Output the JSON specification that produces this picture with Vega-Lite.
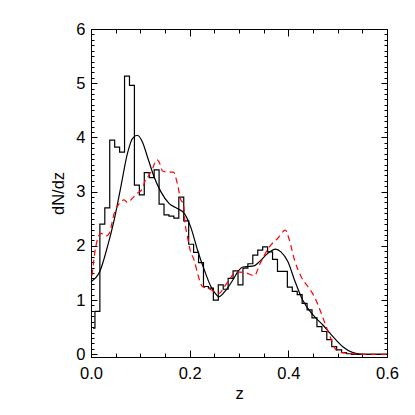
{
  "$schema": "https://vega.github.io/schema/vega-lite/v6.json",
  "autosize": "none",
  "width": 296,
  "height": 328,
  "padding": {"left": 91, "top": 29, "right": 28, "bottom": 58},
  "background": "white",
  "config": {
    "view": {"stroke": "black", "strokeWidth": 1},
    "font": "Liberation Sans",
    "axis": {"grid": false, "domainColor": "black", "tickColor": "black", "labelColor": "black", "titleColor": "black", "labelFont": "Liberation Sans", "titleFont": "Liberation Sans", "labelFontSize": 16.5, "titleFontSize": 16.5, "titleFontWeight": "normal", "tickWidth": 1, "domainWidth": 1}
  },
  "datasets": {
    "hist": [
      {"z": 0.004, "n": 0.48}, {"z": 0.008, "n": 0.79}, {"z": 0.018, "n": 2.40}, {"z": 0.028, "n": 2.70},
      {"z": 0.038, "n": 3.95}, {"z": 0.048, "n": 3.82}, {"z": 0.058, "n": 3.73}, {"z": 0.068, "n": 5.13},
      {"z": 0.078, "n": 4.96}, {"z": 0.088, "n": 3.12}, {"z": 0.098, "n": 2.94}, {"z": 0.108, "n": 3.35},
      {"z": 0.118, "n": 3.26}, {"z": 0.128, "n": 3.40}, {"z": 0.138, "n": 2.77}, {"z": 0.148, "n": 2.57},
      {"z": 0.158, "n": 2.55}, {"z": 0.168, "n": 2.51}, {"z": 0.178, "n": 2.90}, {"z": 0.188, "n": 2.46},
      {"z": 0.198, "n": 2.03}, {"z": 0.208, "n": 1.88}, {"z": 0.218, "n": 1.69}, {"z": 0.228, "n": 1.25},
      {"z": 0.238, "n": 1.22}, {"z": 0.248, "n": 1.00}, {"z": 0.258, "n": 1.28}, {"z": 0.268, "n": 1.20},
      {"z": 0.278, "n": 1.40}, {"z": 0.288, "n": 1.54}, {"z": 0.298, "n": 1.28}, {"z": 0.308, "n": 1.59},
      {"z": 0.318, "n": 1.67}, {"z": 0.328, "n": 1.83}, {"z": 0.338, "n": 1.92}, {"z": 0.348, "n": 1.98},
      {"z": 0.358, "n": 1.89}, {"z": 0.368, "n": 1.75}, {"z": 0.378, "n": 1.53}, {"z": 0.388, "n": 1.53},
      {"z": 0.398, "n": 1.24}, {"z": 0.408, "n": 1.16}, {"z": 0.418, "n": 1.10}, {"z": 0.428, "n": 0.94},
      {"z": 0.438, "n": 0.82}, {"z": 0.448, "n": 0.67}, {"z": 0.458, "n": 0.51}, {"z": 0.468, "n": 0.42},
      {"z": 0.478, "n": 0.27}, {"z": 0.488, "n": 0.14}, {"z": 0.498, "n": 0.08}, {"z": 0.508, "n": 0.03},
      {"z": 0.518, "n": 0.01}, {"z": 0.528, "n": 0.0}, {"z": 0.6, "n": 0.0}
    ],
    "smooth": [
      {"z": 0.0, "n": 1.34}, {"z": 0.018, "n": 1.53}, {"z": 0.0335, "n": 1.99}, {"z": 0.047, "n": 2.48},
      {"z": 0.0605, "n": 3.09}, {"z": 0.074, "n": 3.71}, {"z": 0.084, "n": 3.98}, {"z": 0.094, "n": 4.04},
      {"z": 0.104, "n": 3.92}, {"z": 0.1145, "n": 3.64}, {"z": 0.128, "n": 3.27}, {"z": 0.1415, "n": 3.0},
      {"z": 0.1585, "n": 2.78}, {"z": 0.175, "n": 2.69}, {"z": 0.189, "n": 2.60}, {"z": 0.202, "n": 2.35},
      {"z": 0.216, "n": 1.92}, {"z": 0.2295, "n": 1.56}, {"z": 0.243, "n": 1.25}, {"z": 0.253, "n": 1.11},
      {"z": 0.259, "n": 1.06}, {"z": 0.274, "n": 1.19}, {"z": 0.2875, "n": 1.37}, {"z": 0.298, "n": 1.53},
      {"z": 0.308, "n": 1.61}, {"z": 0.32, "n": 1.62}, {"z": 0.33, "n": 1.63}, {"z": 0.3415, "n": 1.71},
      {"z": 0.358, "n": 1.86}, {"z": 0.374, "n": 1.94}, {"z": 0.385, "n": 1.89}, {"z": 0.399, "n": 1.71},
      {"z": 0.4125, "n": 1.37}, {"z": 0.429, "n": 1.00}, {"z": 0.4496, "n": 0.73}, {"z": 0.47, "n": 0.54},
      {"z": 0.49, "n": 0.33}, {"z": 0.5105, "n": 0.14}, {"z": 0.531, "n": 0.03}, {"z": 0.551, "n": 0.0},
      {"z": 0.6, "n": 0.0}
    ],
    "model": [
      {"z": 0.002, "n": 1.45}, {"z": 0.0098, "n": 1.99}, {"z": 0.02, "n": 2.23}, {"z": 0.03, "n": 2.18},
      {"z": 0.037, "n": 2.23}, {"z": 0.047, "n": 2.60}, {"z": 0.057, "n": 2.78}, {"z": 0.067, "n": 2.85},
      {"z": 0.074, "n": 2.80}, {"z": 0.084, "n": 2.88}, {"z": 0.094, "n": 2.97}, {"z": 0.104, "n": 3.05},
      {"z": 0.11, "n": 3.21}, {"z": 0.118, "n": 3.31}, {"z": 0.125, "n": 3.43}, {"z": 0.133, "n": 3.59},
      {"z": 0.138, "n": 3.55}, {"z": 0.145, "n": 3.38}, {"z": 0.155, "n": 3.36}, {"z": 0.167, "n": 3.36},
      {"z": 0.175, "n": 3.15}, {"z": 0.182, "n": 2.85}, {"z": 0.1875, "n": 2.78}, {"z": 0.19, "n": 2.48},
      {"z": 0.1955, "n": 2.17}, {"z": 0.202, "n": 1.89}, {"z": 0.209, "n": 1.74}, {"z": 0.216, "n": 1.49},
      {"z": 0.226, "n": 1.25}, {"z": 0.236, "n": 1.22}, {"z": 0.25, "n": 1.16}, {"z": 0.259, "n": 1.12},
      {"z": 0.2706, "n": 1.25}, {"z": 0.2807, "n": 1.38}, {"z": 0.294, "n": 1.52}, {"z": 0.3145, "n": 1.50},
      {"z": 0.3314, "n": 1.45}, {"z": 0.3415, "n": 1.65}, {"z": 0.3615, "n": 1.98}, {"z": 0.3787, "n": 2.14},
      {"z": 0.394, "n": 2.29}, {"z": 0.402, "n": 2.11}, {"z": 0.4125, "n": 1.74}, {"z": 0.426, "n": 1.43},
      {"z": 0.4395, "n": 1.25}, {"z": 0.453, "n": 1.06}, {"z": 0.4666, "n": 0.76}, {"z": 0.4767, "n": 0.51},
      {"z": 0.487, "n": 0.27}, {"z": 0.497, "n": 0.08}, {"z": 0.51, "n": 0.03}, {"z": 0.531, "n": 0.01},
      {"z": 0.55, "n": 0.0}, {"z": 0.6, "n": 0.0}
    ]
  },
  "resolve": {"axis": {"x": "independent", "y": "independent"}},
  "layer": [
    {
      "data": {"name": "hist"},
      "mark": {"type": "line", "interpolate": "step-after", "color": "black", "strokeWidth": 1.2},
      "encoding": {
        "x": {"field": "z", "type": "quantitative", "scale": {"domain": [0, 0.6], "nice": false, "zero": false},
              "axis": {"orient": "bottom", "values": [0, 0.2, 0.4, 0.6], "format": ".1f", "title": "z", "tickSize": -7, "labelPadding": 15, "titlePadding": 4, "labelFlush": false, "labelOverlap": false}},
        "y": {"field": "n", "type": "quantitative", "scale": {"domain": [-0.05, 6], "nice": false, "zero": false},
              "axis": {"orient": "left", "values": [0, 1, 2, 3, 4, 5, 6], "format": "d", "title": "dN/dz", "tickSize": -6, "labelPadding": 12, "titlePadding": 9, "labelFlush": false, "labelOverlap": false}}
      }
    },
    {
      "data": {"name": "smooth"},
      "mark": {"type": "line", "interpolate": "monotone", "color": "black", "strokeWidth": 1.2},
      "encoding": {
        "x": {"field": "z", "type": "quantitative",
              "axis": {"orient": "bottom", "values": [0.05, 0.1, 0.15, 0.25, 0.3, 0.35, 0.45, 0.5, 0.55], "labels": false, "title": null, "domain": false, "tickSize": -4}},
        "y": {"field": "n", "type": "quantitative",
              "axis": {"orient": "left", "values": [0.1,0.2,0.3,0.4,0.5,0.6,0.7,0.8,0.9,1.1,1.2,1.3,1.4,1.5,1.6,1.7,1.8,1.9,2.1,2.2,2.3,2.4,2.5,2.6,2.7,2.8,2.9,3.1,3.2,3.3,3.4,3.5,3.6,3.7,3.8,3.9,4.1,4.2,4.3,4.4,4.5,4.6,4.7,4.8,4.9,5.1,5.2,5.3,5.4,5.5,5.6,5.7,5.8,5.9], "labels": false, "title": null, "domain": false, "tickSize": -3}}
      }
    },
    {
      "data": {"name": "model"},
      "mark": {"type": "line", "interpolate": "monotone", "color": "#ff0000", "strokeWidth": 1.2, "strokeDash": [6, 4]},
      "encoding": {
        "x": {"field": "z", "type": "quantitative",
              "axis": {"orient": "top", "values": [0, 0.2, 0.4, 0.6], "labels": false, "title": null, "tickSize": -7}},
        "y": {"field": "n", "type": "quantitative",
              "axis": {"orient": "right", "values": [0, 1, 2, 3, 4, 5, 6], "labels": false, "title": null, "tickSize": -6}}
      }
    },
    {
      "data": {"name": "smooth"},
      "mark": {"type": "line", "interpolate": "monotone", "color": "black", "strokeWidth": 1.2, "opacity": 0},
      "encoding": {
        "x": {"field": "z", "type": "quantitative",
              "axis": {"orient": "top", "values": [0.05, 0.1, 0.15, 0.25, 0.3, 0.35, 0.45, 0.5, 0.55], "labels": false, "title": null, "domain": false, "tickSize": -4}},
        "y": {"field": "n", "type": "quantitative",
              "axis": {"orient": "right", "values": [0.1,0.2,0.3,0.4,0.5,0.6,0.7,0.8,0.9,1.1,1.2,1.3,1.4,1.5,1.6,1.7,1.8,1.9,2.1,2.2,2.3,2.4,2.5,2.6,2.7,2.8,2.9,3.1,3.2,3.3,3.4,3.5,3.6,3.7,3.8,3.9,4.1,4.2,4.3,4.4,4.5,4.6,4.7,4.8,4.9,5.1,5.2,5.3,5.4,5.5,5.6,5.7,5.8,5.9], "labels": false, "title": null, "domain": false, "tickSize": -3}}
      }
    }
  ]
}
